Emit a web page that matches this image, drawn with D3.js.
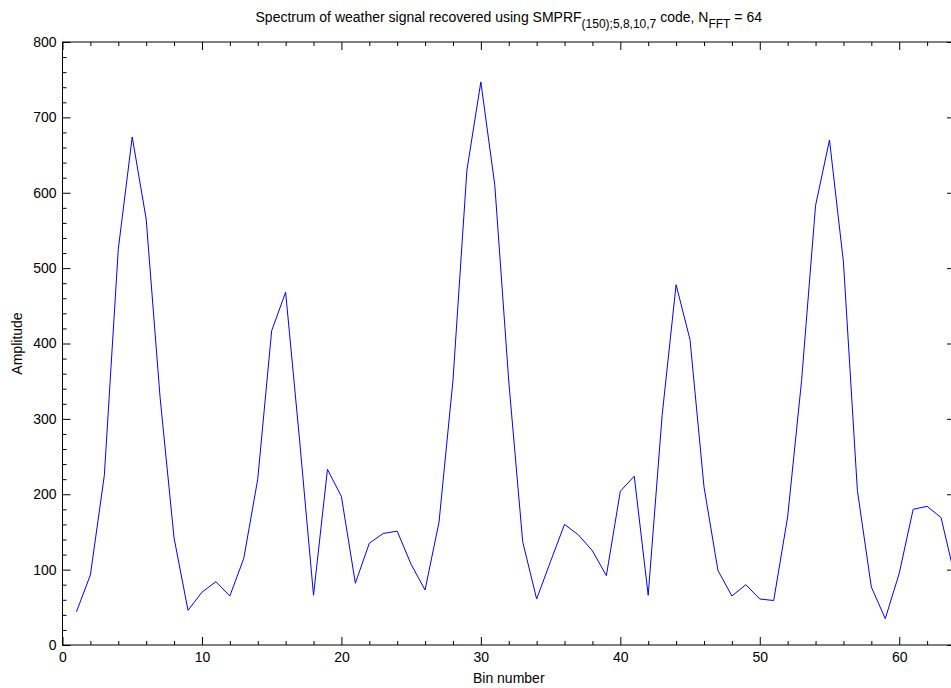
<!DOCTYPE html>
<html>
<head>
<meta charset="utf-8">
<script src="https://cdn.jsdelivr.net/npm/d3@7"></script>
<style>
  body { margin: 0; background: #fff; }
  svg { display: block; font-family: "Liberation Sans", Arial, sans-serif; }
</style>
</head>
<body>
<svg id="chart" width="951" height="688"></svg>
<script>
// bins 1..64 of the spectrum
const bins = d3.range(1, 65);
const amplitude = [44, 93, 225, 525, 674, 565, 328, 142, 46, 70, 84, 65, 115, 220, 417, 468,
  272, 66, 233, 197, 82, 135, 148, 151, 107, 73, 163, 351, 630, 747, 610, 350,
  137, 61, 111, 160, 146, 125, 92, 204, 224, 66, 305, 478, 405, 210, 99, 65,
  80, 61, 59, 170, 351, 583, 670, 508, 205, 77, 35, 95, 180, 184, 169, 90];
const xTicks = [0, 10, 20, 30, 40, 50, 60];
const yTicks = [0, 100, 200, 300, 400, 500, 600, 700, 800];

const margin = {top: 42, left: 62.5, right: 955, bottom: 645};

const svg = d3.select("#chart");

const x = d3.scaleLinear().domain([0, 64]).range([margin.left, margin.right]);
const y = d3.scaleLinear().domain([0, 800]).range([margin.bottom, margin.top]);

const xMinor = d3.range(0, 65, 2).filter(d => d % 10 !== 0);
const yMinor = d3.range(0, 801, 20).filter(d => d % 100 !== 0);

// box
svg.append("rect")
  .attr("x", margin.left).attr("y", margin.top)
  .attr("width", margin.right - margin.left)
  .attr("height", margin.bottom - margin.top)
  .attr("fill", "none").attr("stroke", "#000").attr("stroke-width", 1);

function styleAxis(g) {
  g.select(".domain").remove();
  g.selectAll("line").attr("stroke", "#000");
  g.selectAll("text").attr("fill", "#000").style("font-size", "14px");
}

// bottom axis, major + minor ticks pointing inward
svg.append("g").attr("transform", `translate(0,${margin.bottom})`)
  .call(d3.axisBottom(x).tickValues(xTicks).tickSizeInner(-8).tickPadding(7).tickFormat(d3.format("d")))
  .call(styleAxis);
svg.append("g").attr("transform", `translate(0,${margin.bottom})`)
  .call(d3.axisBottom(x).tickValues(xMinor).tickSizeInner(-4).tickFormat(""))
  .call(styleAxis);
// top axis
svg.append("g").attr("transform", `translate(0,${margin.top})`)
  .call(d3.axisTop(x).tickValues(xTicks).tickSizeInner(-8).tickFormat(""))
  .call(styleAxis);
svg.append("g").attr("transform", `translate(0,${margin.top})`)
  .call(d3.axisTop(x).tickValues(xMinor).tickSizeInner(-4).tickFormat(""))
  .call(styleAxis);

// left axis
svg.append("g").attr("transform", `translate(${margin.left},0)`)
  .call(d3.axisLeft(y).tickValues(yTicks).tickSizeInner(-8).tickPadding(6).tickFormat(d3.format("d")))
  .call(styleAxis);
svg.append("g").attr("transform", `translate(${margin.left},0)`)
  .call(d3.axisLeft(y).tickValues(yMinor).tickSizeInner(-4).tickFormat(""))
  .call(styleAxis);
// right axis
svg.append("g").attr("transform", `translate(${margin.right},0)`)
  .call(d3.axisRight(y).tickValues(yTicks).tickSizeInner(-8).tickFormat(""))
  .call(styleAxis);
svg.append("g").attr("transform", `translate(${margin.right},0)`)
  .call(d3.axisRight(y).tickValues(yMinor).tickSizeInner(-4).tickFormat(""))
  .call(styleAxis);

// spectrum line
const line = d3.line().x((d, i) => x(bins[i])).y(d => y(d));
svg.append("path")
  .datum(amplitude)
  .attr("d", line)
  .attr("fill", "none")
  .attr("stroke", "#0000ff")
  .attr("stroke-width", 1);

// title with subscripts
const title = svg.append("text")
  .attr("x", (margin.left + margin.right) / 2)
  .attr("y", 22)
  .attr("text-anchor", "middle")
  .style("font-size", "14px");
title.append("tspan").text("Spectrum of weather signal recovered using SMPRF");
title.append("tspan").attr("dy", 6).style("font-size", "12px").text("(150);5,8,10,7");
title.append("tspan").attr("dy", -6).text(" code, N");
title.append("tspan").attr("dy", 6).style("font-size", "12px").text("FFT");
title.append("tspan").attr("dy", -6).text(" = 64");

svg.append("text")
  .attr("x", (margin.left + margin.right) / 2)
  .attr("y", 683)
  .attr("text-anchor", "middle")
  .style("font-size", "14px")
  .text("Bin number");

svg.append("text")
  .attr("transform", `translate(22,${(margin.top + margin.bottom) / 2}) rotate(-90)`)
  .attr("text-anchor", "middle")
  .style("font-size", "14px")
  .text("Amplitude");
</script>
</body>
</html>
